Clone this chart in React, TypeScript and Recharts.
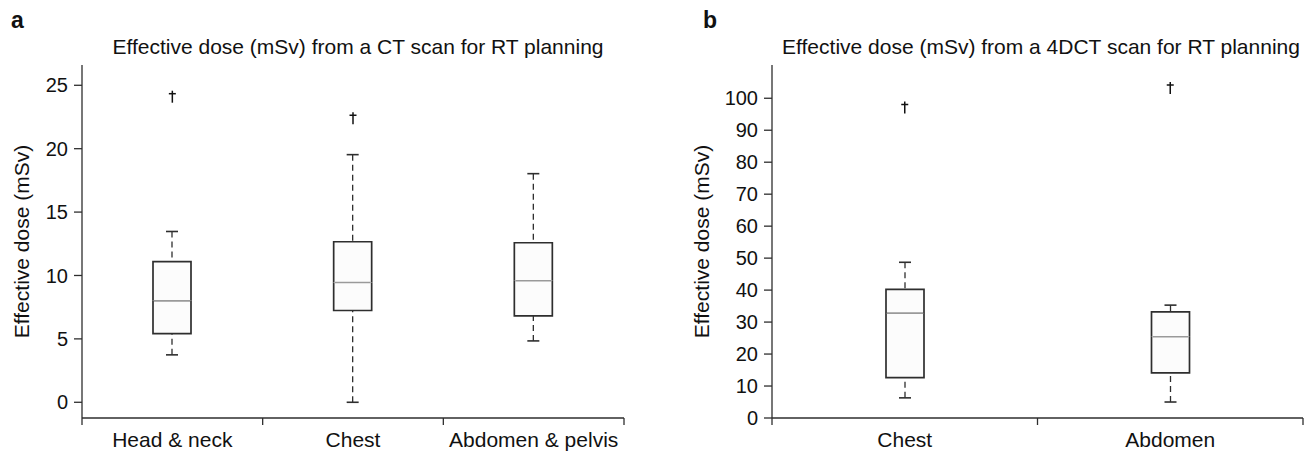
import React from 'react';
import { ComposedChart, Bar, Scatter, XAxis, YAxis, ReferenceLine } from 'recharts';

// panel a: CT scan
const categoriesA = ['Head & neck', 'Chest', 'Abdomen & pelvis'];
const minA = [3.74, 0, 4.84];
const q1A = [5.42, 7.24, 6.82];
const medianA = [8.0, 9.45, 9.58];
const q3A = [11.1, 12.66, 12.58];
const maxA = [13.47, 19.53, 18.03];
const outlierA: (number | null)[] = [24.1, 22.4, null];
const ticksA = [0, 5, 10, 15, 20, 25];

// panel b: 4DCT scan
const categoriesB = ['Chest', 'Abdomen'];
const minB = [6.3, 5.0];
const q1B = [12.6, 14.1];
const medianB = [32.8, 25.4];
const q3B = [40.2, 33.2];
const maxB = [48.7, 35.3];
const outlierB: (number | null)[] = [97.1, 103.2];
const ticksB = [0, 10, 20, 30, 40, 50, 60, 70, 80, 90, 100];

const FONT = '"Liberation Sans", Arial, sans-serif';
const INK = '#2e2e2e';
const TEXT = '#111';
const BOX_FILL = '#fcfcfc';
const MEDIAN = '#9a9a9a';

const buildRows = (
  names: string[],
  mins: number[],
  q1s: number[],
  meds: number[],
  q3s: number[],
  maxs: number[],
  outs: (number | null)[]
) =>
  names.map((name, i) => ({
    name,
    base: mins[i],
    lowWhisker: q1s[i] - mins[i],
    lowBox: meds[i] - q1s[i],
    highBox: q3s[i] - meds[i],
    highWhisker: maxs[i] - q3s[i],
    outlier: outs[i],
  }));

const rowsA = buildRows(categoriesA, minA, q1A, medianA, q3A, maxA, outlierA);
const rowsB = buildRows(categoriesB, minB, q1B, medianB, q3B, maxB, outlierB);

const LowWhisker = (props: any) => {
  const { x, y, width, height } = props;
  const cx = x + width / 2;
  const bottom = y + height;
  return (
    <g>
      <line x1={cx} x2={cx} y1={bottom} y2={y} stroke={INK} strokeWidth={1.3} strokeDasharray="6 4" />
      <line x1={cx - 6} x2={cx + 6} y1={bottom} y2={bottom} stroke={INK} strokeWidth={1.6} />
    </g>
  );
};

const HighWhisker = (props: any) => {
  const { x, y, width, height } = props;
  const cx = x + width / 2;
  return (
    <g>
      <line x1={cx} x2={cx} y1={y} y2={y + height} stroke={INK} strokeWidth={1.3} strokeDasharray="6 4" />
      <line x1={cx - 6} x2={cx + 6} y1={y} y2={y} stroke={INK} strokeWidth={1.6} />
    </g>
  );
};

const LowBox = (props: any) => {
  const { x, y, width, height } = props;
  return (
    <g>
      <rect x={x} y={y} width={width} height={height} fill={BOX_FILL} />
      <path d={`M${x},${y} V${y + height} H${x + width} V${y}`} fill="none" stroke={INK} strokeWidth={1.7} />
    </g>
  );
};

const HighBox = (props: any) => {
  const { x, y, width, height } = props;
  const bottom = y + height;
  return (
    <g>
      <rect x={x} y={y} width={width} height={height} fill={BOX_FILL} />
      <path d={`M${x},${bottom} V${y} H${x + width} V${bottom}`} fill="none" stroke={INK} strokeWidth={1.7} />
      <line x1={x + 1} x2={x + width - 1} y1={bottom} y2={bottom} stroke={MEDIAN} strokeWidth={1.6} />
    </g>
  );
};

// outlier drawn as a dagger mark
const Dagger = (props: any) => {
  const { cx, cy, payload } = props;
  if (!payload || payload.outlier == null || !Number.isFinite(cy)) return <g />;
  return (
    <g stroke="#111" strokeWidth={1.5}>
      <line x1={cx} x2={cx} y1={cy - 6} y2={cy + 6} />
      <line x1={cx - 3.5} x2={cx + 3.5} y1={cy - 3} y2={cy - 3} />
    </g>
  );
};

const CategoryTick = (props: any) => {
  const { x, y, payload } = props;
  return (
    <text x={x} y={y + 29} textAnchor="middle" fontSize={21} fill={TEXT} fontFamily={FONT}>
      {payload.value}
    </text>
  );
};

// short tick mark hanging below the x axis at a band edge
const EdgeTick = (props: any) => {
  const { x1, y1, y2 } = props;
  const bottom = Math.max(y1, y2);
  return <line x1={x1} x2={x1} y1={bottom} y2={bottom + 7} stroke={INK} strokeWidth={1.3} />;
};

const BoxChart = ({
  rows,
  names,
  width,
  yWidth,
  right,
  domain,
  ticks,
  labelOffset,
}: {
  rows: ReturnType<typeof buildRows>;
  names: string[];
  width: number;
  yWidth: number;
  right: number;
  domain: [number, number];
  ticks: number[];
  labelOffset: number;
}) => (
  <ComposedChart
    width={width}
    height={454}
    data={rows}
    margin={{ top: 65, right, bottom: 0, left: 0 }}
    barSize={38}
  >
    <XAxis
      dataKey="name"
      type="category"
      interval={0}
      tickLine={false}
      tickSize={0}
      tickMargin={0}
      height={36}
      axisLine={{ stroke: INK, strokeWidth: 1.3 }}
      tick={<CategoryTick />}
    />
    <YAxis
      type="number"
      domain={domain}
      ticks={ticks}
      width={yWidth}
      tickSize={8}
      tickMargin={6}
      interval={0}
      axisLine={{ stroke: INK, strokeWidth: 1.3 }}
      tickLine={{ stroke: INK, strokeWidth: 1.3 }}
      tick={{ fontSize: 20, fill: TEXT, fontFamily: FONT }}
      allowDataOverflow
      label={{
        value: 'Effective dose (mSv)',
        angle: -90,
        position: 'insideLeft',
        offset: labelOffset,
        style: { textAnchor: 'middle', fontSize: 21, fill: TEXT, fontFamily: FONT },
      }}
    />
    <Bar dataKey="base" stackId="box" fill="none" isAnimationActive={false} />
    <Bar dataKey="lowWhisker" stackId="box" shape={LowWhisker} isAnimationActive={false} />
    <Bar dataKey="lowBox" stackId="box" shape={LowBox} isAnimationActive={false} />
    <Bar dataKey="highBox" stackId="box" shape={HighBox} isAnimationActive={false} />
    <Bar dataKey="highWhisker" stackId="box" shape={HighWhisker} isAnimationActive={false} />
    <Scatter dataKey="outlier" shape={Dagger} isAnimationActive={false} />
    {names.map((n) => (
      <ReferenceLine key={n} x={n} position="start" stroke="none" shape={EdgeTick} ifOverflow="visible" />
    ))}
    <ReferenceLine x={names[names.length - 1]} position="end" stroke="none" shape={EdgeTick} ifOverflow="visible" />
  </ComposedChart>
);

const panelLetter: React.CSSProperties = {
  position: 'absolute',
  top: 9,
  fontSize: 23,
  fontWeight: 'bold',
  lineHeight: '23px',
  fontFamily: FONT,
  color: TEXT,
};

const titleStyle: React.CSSProperties = {
  position: 'absolute',
  top: 36,
  fontSize: 21,
  lineHeight: '21px',
  fontFamily: FONT,
  color: TEXT,
  textAlign: 'center',
  whiteSpace: 'nowrap',
};

export default function App() {
  return (
    <div style={{ position: 'absolute', left: 0, top: 0, width: 1313, height: 454, background: '#fff' }}>
      <div style={{ ...panelLetter, left: 11 }}>a</div>
      <div style={{ ...panelLetter, left: 703 }}>b</div>
      <div style={{ ...titleStyle, left: 58, width: 600 }}>Effective dose (mSv) from a CT scan for RT planning</div>
      <div style={{ ...titleStyle, left: 741, width: 600 }}>Effective dose (mSv) from a 4DCT scan for RT planning</div>
      <div style={{ position: 'absolute', left: 0, top: 0 }}>
        <BoxChart
          rows={rowsA}
          names={categoriesA}
          width={660}
          yWidth={82}
          right={36}
          domain={[-1.24, 26.6]}
          ticks={ticksA}
          labelOffset={22}
        />
      </div>
      <div style={{ position: 'absolute', left: 660, top: 0 }}>
        <BoxChart
          rows={rowsB}
          names={categoriesB}
          width={653}
          yWidth={112}
          right={10}
          domain={[0, 110.4]}
          ticks={ticksB}
          labelOffset={42}
        />
      </div>
    </div>
  );
}
